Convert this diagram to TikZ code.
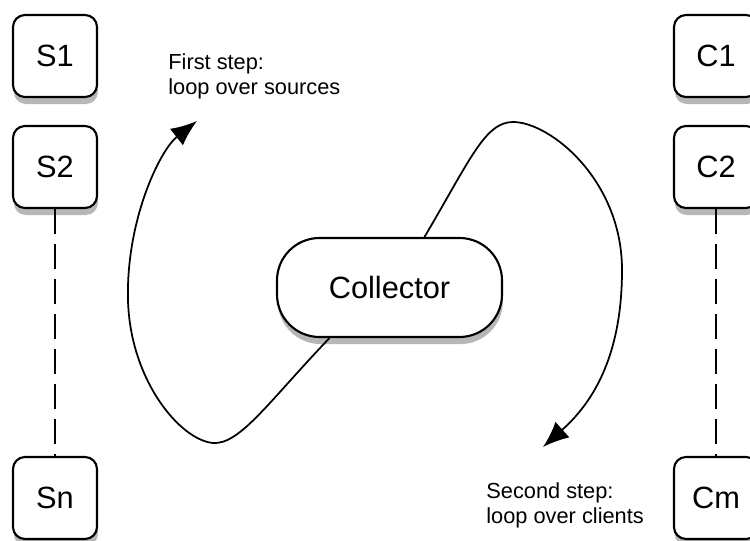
\documentclass[tikz,border=0pt]{standalone}
\usepackage{fontspec}
\setmainfont{Liberation Sans}
\usetikzlibrary{arrows.meta,shadows,calc}

\tikzset{
  peer/.style={draw,line width=1.2pt,rounded corners=0.24cm,fill=white,
    minimum width=1.68cm,minimum height=1.64cm,inner sep=0pt,
    font=\fontsize{17.5}{21}\selectfont,
    drop shadow={shadow xshift=0.5pt,shadow yshift=-4pt,opacity=0.4,fill=black!70}},
  hub/.style={peer,rounded corners=0.85cm,minimum width=4.5cm,minimum height=1.98cm},
  pass/.style={line width=1pt,-{Latex[length=0.52cm,width=0.42cm]}},
  note/.style={align=left,inner sep=0pt,anchor=north west,
    font=\fontsize{12.4}{14.2}\selectfont},
  dashline/.style={line width=0.6pt,dash pattern=on 0.5cm off 0.2cm}
}

\begin{document}
\begin{tikzpicture}[x=0.2mm,y=-0.2mm]
        \useasboundingbox (0,0) rectangle (750,541);

        % sources on the left, clients on the right
        \node[peer] (s1) at (55,56) {S1};
        \node[peer] (s2) at (55,167) {S2};
        \node[peer] (sn) at (55,498) {Sn};
        \node[peer] (c1) at (716,56) {C1};
        \node[peer] (c2) at (716,167) {C2};
        \node[peer] (cm) at (716,498) {Cm};
        \draw[dashline] (s2) -- (sn);
        \draw[dashline] (c2) -- (cm);

        \node[hub] (col) at (389.5,287.5) {Collector};

        \node[note] (first) at (168,53) {First step:\\loop over sources};
        \node[note] (second) at (486,482) {Second step:\\loop over clients};

        \coordinate (firstend) at (197,121);
        \coordinate (secondend) at (543,447);
        \draw[pass] ($(col.south)+(-60,0)$) .. controls (270,400) and (240,445) .. (213,443)
            .. controls (180,440) and (130,380) .. (128,300)
            .. controls (126,220) and (160,150) .. (firstend);
        \draw[pass] ($(col.north)+(35,0)$) .. controls (470,160) and (485,122) .. (513,122)
            .. controls (550,122) and (622,180) .. (622,270)
            .. controls (622,360) and (590,405) .. (secondend);
\end{tikzpicture}
\end{document}
